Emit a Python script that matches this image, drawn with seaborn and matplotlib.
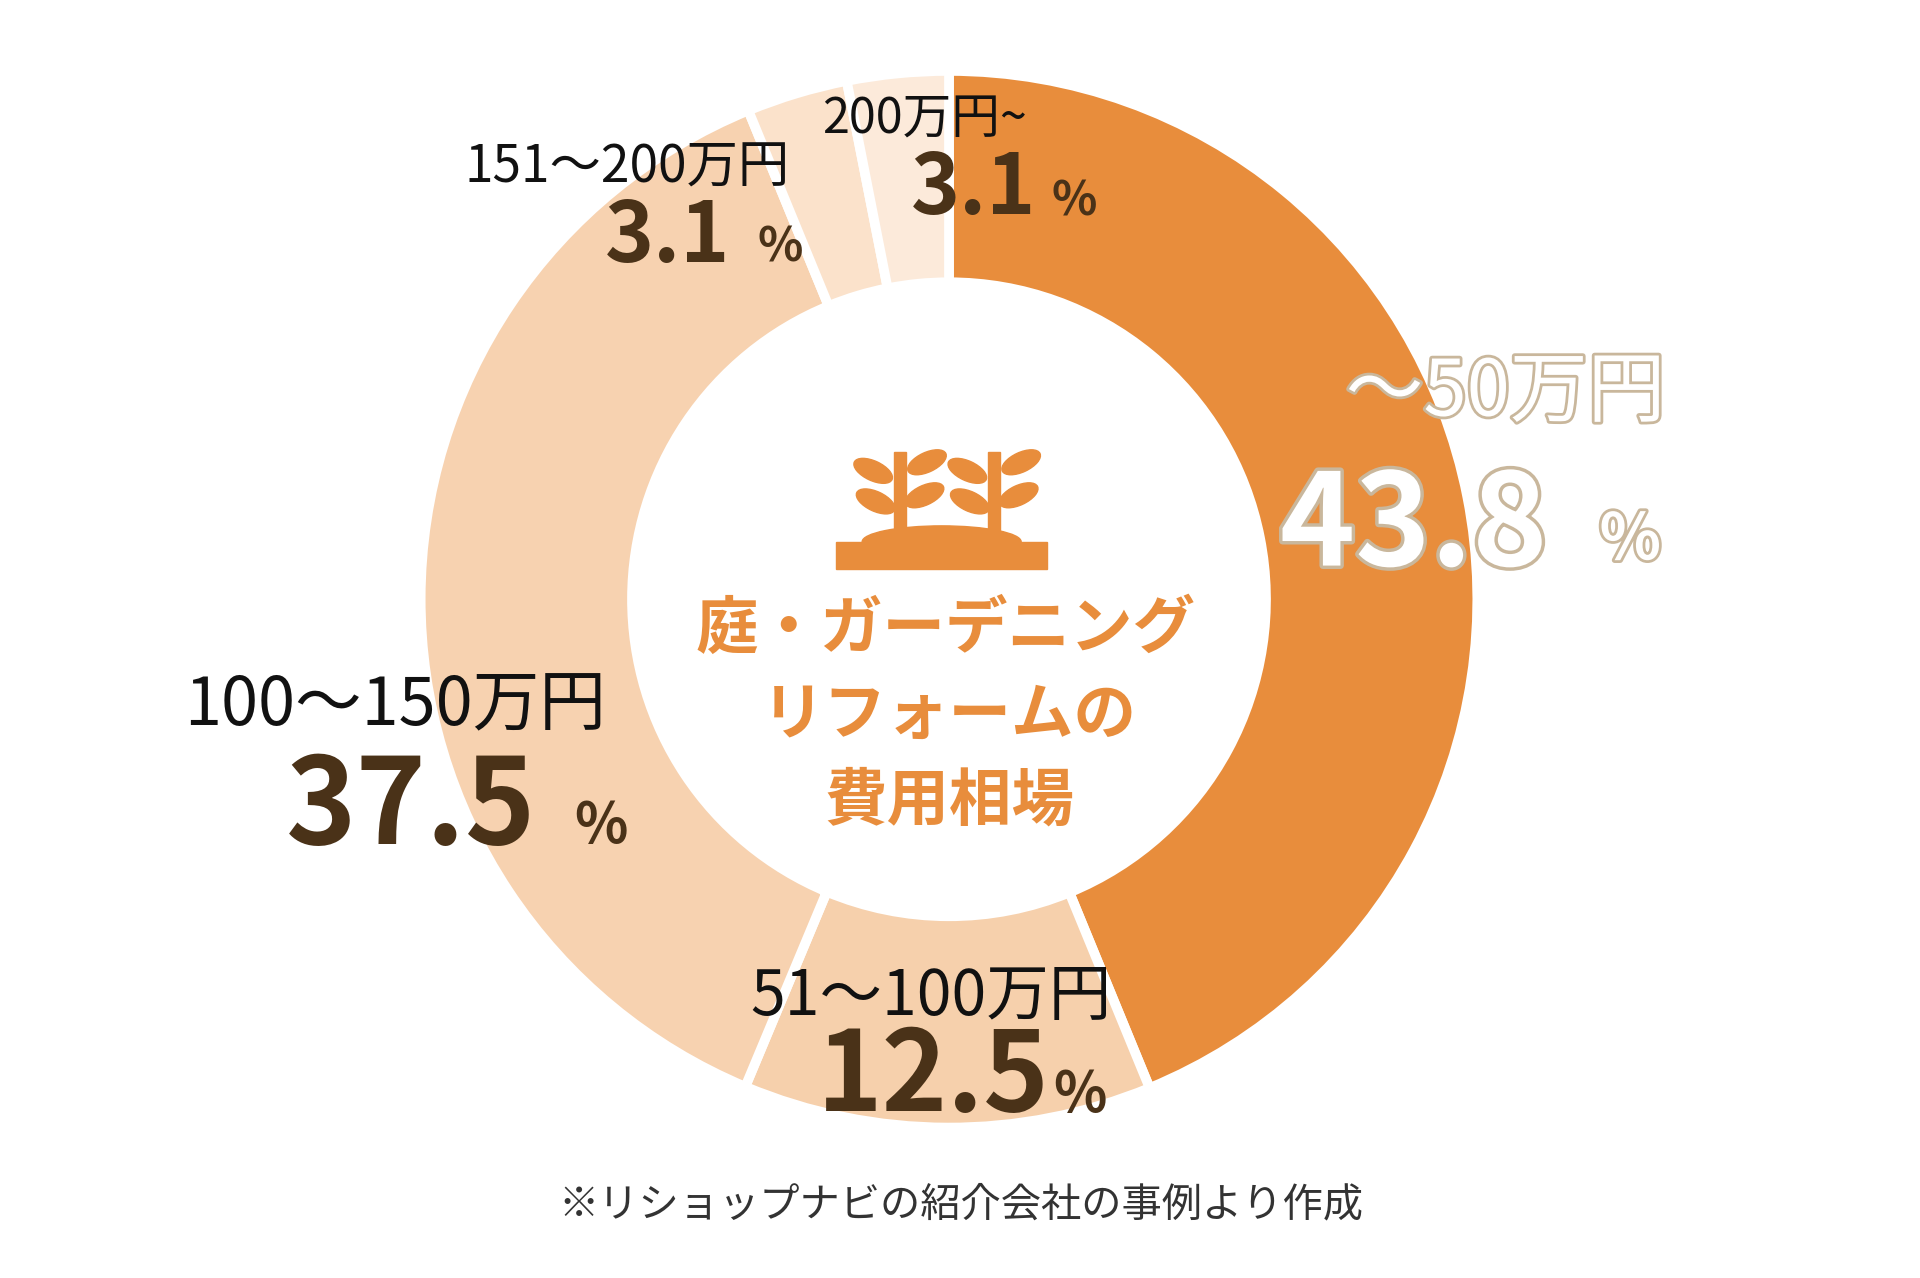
import matplotlib
matplotlib.use("Agg")
import matplotlib.pyplot as plt
import matplotlib.patheffects as pe
from matplotlib.patches import Rectangle, Ellipse
import seaborn as sns

sns.set_theme(style="white")
plt.rcParams["font.family"] = "Noto Sans CJK JP"

# data
categories = ["～50万円", "51～100万円", "100～150万円", "151～200万円", "200万円~"]
shares = [43.8, 12.5, 37.5, 3.1, 3.1]
colors = ["#E88D3C", "#F6D0AC", "#F7D2B0", "#FBE2CB", "#FCEADA"]
value_labels = ["43.8", "12.5", "37.5", "3.1", "3.1"]

H = 1045  # working coords, y measured from top
def Y(y):
    return H - y

fig = plt.figure(figsize=(19.2, 12.78), dpi=100)
ax = fig.add_axes([0, 0, 1, 1])

cx, cy, R = 775, 490, 432
ax.pie(shares, colors=colors, startangle=90, counterclock=False,
       center=(cx, Y(cy)), radius=R, frame=True,
       wedgeprops=dict(width=R * 0.4, edgecolor="white", linewidth=7))
ax.set_xlim(0, 1568)
ax.set_ylim(0, H)
ax.set_aspect("equal")
ax.axis("off")

brown = "#4A3218"
orange = "#E88D3C"
outline = "#C9B79C"

# ~50万円
ax.text(1230, Y(322), categories[0], fontsize=56, color="white", ha="center", va="center",
        path_effects=[pe.withStroke(linewidth=4, foreground=outline)])
ax.text(1155, Y(432), value_labels[0], fontsize=92, fontweight="bold", color="white", ha="center", va="center",
        path_effects=[pe.withStroke(linewidth=5, foreground=outline)])
ax.text(1332, Y(442), "%", fontsize=46, fontweight="bold", color="white", ha="center", va="center",
        path_effects=[pe.withStroke(linewidth=4, foreground=outline)])

# 51~100万円
ax.text(760, Y(815), categories[1], fontsize=45, color="#111111", ha="center", va="center")
ax.text(762, Y(882), value_labels[1], fontsize=80, fontweight="bold", color=brown, ha="center", va="center")
ax.text(882, Y(895), "%", fontsize=40, fontweight="bold", color=brown, ha="center", va="center")

# 100~150万円
ax.text(322, Y(578), categories[2], fontsize=48, color="#111111", ha="center", va="center")
ax.text(335, Y(662), value_labels[2], fontsize=86, fontweight="bold", color=brown, ha="center", va="center")
ax.text(490, Y(675), "%", fontsize=40, fontweight="bold", color=brown, ha="center", va="center")

# 151~200万円
ax.text(512, Y(137), categories[3], fontsize=37, color="#111111", ha="center", va="center")
ax.text(545, Y(194), value_labels[3], fontsize=60, fontweight="bold", color=brown, ha="center", va="center")
ax.text(637, Y(202), "%", fontsize=34, fontweight="bold", color=brown, ha="center", va="center")

# 200万円~
ax.text(755, Y(98), categories[4], fontsize=35, color="#111111", ha="center", va="center")
ax.text(795, Y(155), value_labels[4], fontsize=60, fontweight="bold", color=brown, ha="center", va="center")
ax.text(877, Y(165), "%", fontsize=34, fontweight="bold", color=brown, ha="center", va="center")

# center icon
ax.add_patch(Rectangle((683, Y(465)), 172, 22, color=orange))
ax.add_patch(Ellipse((769, Y(443)), 130, 26, color=orange))
for sx in (735, 812):
    ax.add_patch(Rectangle((sx - 5, Y(445)), 10, 75, color=orange))
    for dx, dy in ((-22, 385), (22, 378), (-20, 410), (20, 405)):
        ax.add_patch(Ellipse((sx + dx, Y(dy)), 34, 16, angle=-25 if dx < 0 else 25, color=orange))

ax.text(772, Y(515), "庭・ガーデニング", fontsize=45, fontweight="bold", color=orange, ha="center", va="center")
ax.text(775, Y(585), "リフォームの", fontsize=45, fontweight="bold", color=orange, ha="center", va="center")
ax.text(775, Y(655), "費用相場", fontsize=45, fontweight="bold", color=orange, ha="center", va="center")

ax.text(785, Y(985), "※リショップナビの紹介会社の事例より作成", fontsize=29, color="#333333",
        ha="center", va="center")

fig.savefig("out.png", dpi=100, facecolor="white")
